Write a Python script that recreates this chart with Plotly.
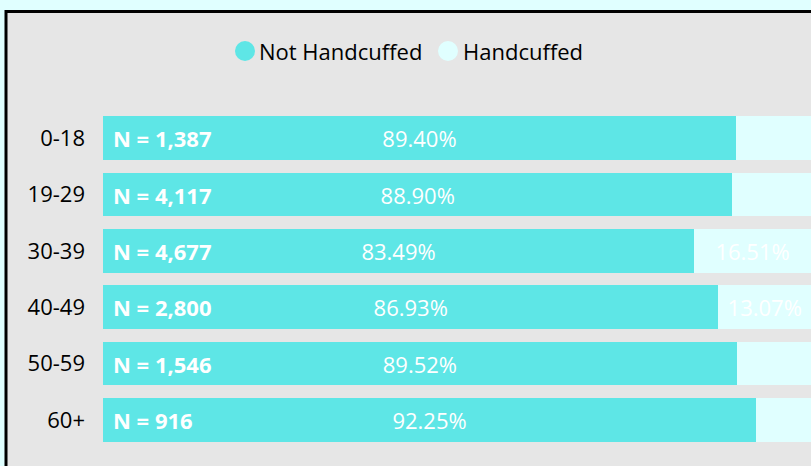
import plotly.graph_objects as go

# ---- data ----
age_groups = ["0-18", "19-29", "30-39", "40-49", "50-59", "60+"]
not_handcuffed = [89.40, 88.90, 83.49, 86.93, 89.52, 92.25]
handcuffed = [10.60, 11.10, 16.51, 13.07, 10.48, 7.75]
counts = [1387, 4117, 4677, 2800, 1546, 916]
series_names = ["Not Handcuffed", "Handcuffed"]

# ---- style ----
C_NOT = "#5EE6E6"
C_HC = "#E0FFFF"
BG = "#E6E6E6"
FONT = "Segoe UI, Open Sans, sans-serif"

W, H = 811, 466
ML, MR, MT, MB = 103, 0, 110, 18
PW, PH = W - ML - MR, H - MT - MB


def px2x(px):
    return (px - ML) / PW


def py2y(py):
    return 1 - (py - MT) / PH


fig = go.Figure()

fig.add_trace(go.Bar(
    y=age_groups, x=not_handcuffed, orientation="h", name=series_names[0],
    marker=dict(color=C_NOT, line=dict(width=0)),
    text=[f"{v:.2f}%" for v in not_handcuffed],
    textposition="inside", insidetextanchor="middle", textangle=0,
    constraintext="none",
    insidetextfont=dict(color="white", size=22, family=FONT),
    showlegend=False, hoverinfo="skip",
))
fig.add_trace(go.Bar(
    y=age_groups, x=handcuffed, orientation="h", name=series_names[1],
    marker=dict(color=C_HC, line=dict(width=0)),
    text=[f"{v:.2f}%" if v > 12 else "" for v in handcuffed],
    textposition="inside", insidetextanchor="middle", textangle=0,
    constraintext="none",
    insidetextfont=dict(color="white", size=22, family=FONT),
    showlegend=False, hoverinfo="skip",
))

annotations = []
for g, n in zip(age_groups, counts):
    annotations.append(dict(
        x=0, y=g, xref="x", yref="y", xanchor="left", yanchor="middle",
        xshift=8, text=f"<b>N = {n:,}</b>", showarrow=False,
        font=dict(color="white", size=22, family=FONT),
    ))

shapes = [
    # panel with black border
    dict(type="rect", xref="paper", yref="paper",
         x0=px2x(6), x1=px2x(840), y0=py2y(11.5), y1=py2y(500),
         fillcolor=BG, line=dict(color="black", width=3), layer="below"),
]

# manual legend (large circles)
legend_items = [(series_names[0], C_NOT, 245, 257), (series_names[1], C_HC, 448, 461)]
for name, col, cx, tx in legend_items:
    shapes.append(dict(
        type="circle", xref="paper", yref="paper",
        xsizemode="pixel", ysizemode="pixel",
        xanchor=px2x(cx), yanchor=py2y(51),
        x0=-10, x1=10, y0=-10, y1=10,
        fillcolor=col, line=dict(width=0),
    ))
    annotations.append(dict(
        x=px2x(tx), y=py2y(51), xref="paper", yref="paper",
        xanchor="left", yanchor="middle", text=name, showarrow=False,
        font=dict(color="black", size=22, family=FONT),
    ))

fig.update_layout(
    width=W, height=H,
    margin=dict(l=ML, r=MR, t=MT, b=MB, pad=0),
    barmode="stack", bargap=0.23,
    paper_bgcolor=C_HC, plot_bgcolor="rgba(0,0,0,0)",
    font=dict(family=FONT, color="black"),
    showlegend=False,
    xaxis=dict(range=[0, 100], visible=False, fixedrange=True),
    yaxis=dict(autorange="reversed", showgrid=False, zeroline=False,
               showline=False, ticks="", ticklabelstandoff=17,
               tickfont=dict(size=22, color="black", family=FONT),
               fixedrange=True),
    shapes=shapes, annotations=annotations,
)

fig.write_html(
    "out.html",
    config={"displayModeBar": False},
    post_script="document.body.style.margin='0';document.body.style.overflow='hidden';",
)
